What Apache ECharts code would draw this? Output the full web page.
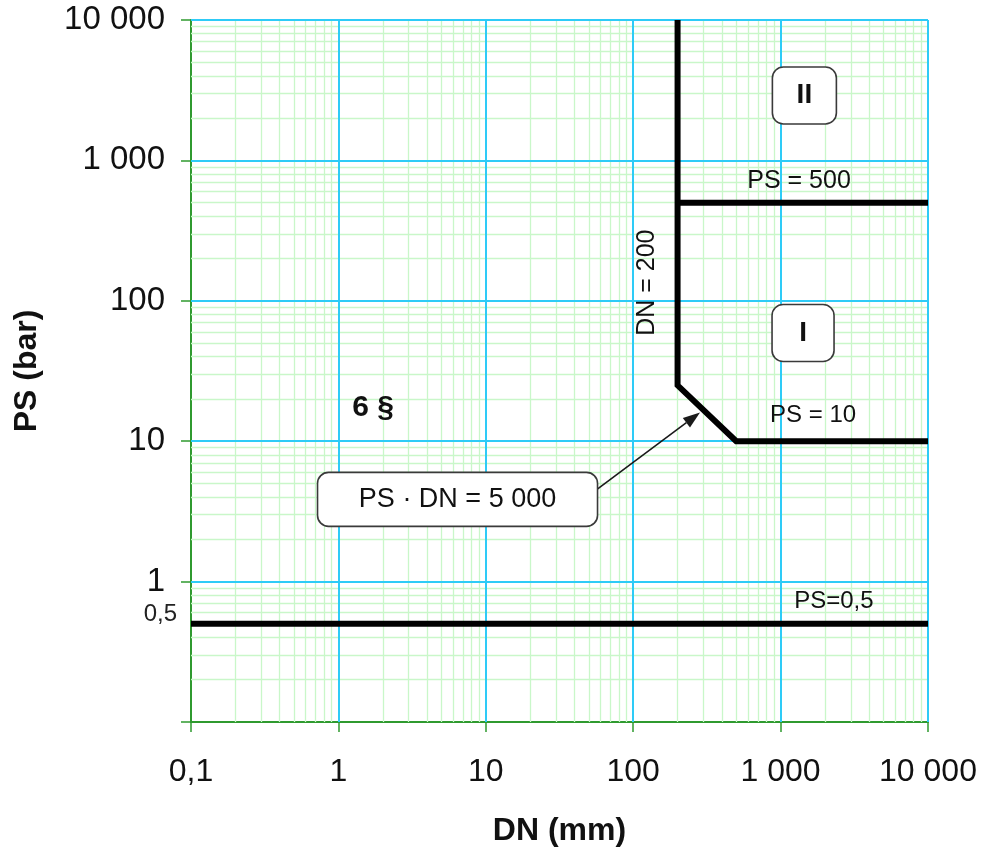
<!DOCTYPE html>
<html>
<head>
<meta charset="utf-8">
<script src="https://cdn.jsdelivr.net/npm/echarts@6/dist/echarts.min.js"></script>
<style>
  html, body { margin: 0; background: #fff; }
  #chart { width: 981px; height: 852px; }
</style>
</head>
<body>
<div id="chart"></div>
<script>
// DN (mm) / PS (bar) boundary lines
const dnLimit = [200, 200, 500, 10000];
const psLimit = [10000, 25, 10, 10];
const dnPs500 = [200, 10000];
const psPs500 = [500, 500];
const dnPs05 = [0.1, 10000];
const psPs05 = [0.5, 0.5];

// grid lines
const decades = [0.1, 1, 10, 100, 1000];
const multiples = [2, 3, 4, 5, 6, 7, 8, 9];
const majorValues = [1, 10, 100, 1000, 10000];

// tick labels
const tickValues = [0.1, 1, 10, 100, 1000, 10000];
const xTickLabels = ['0,1', '1', '10', '100', '1 000', '10 000'];
const yTickLabels = ['', '1', '10', '100', '1 000', '10 000'];

const FONT = '"Liberation Sans", Arial, Helvetica, sans-serif';
const AXIS_GREEN = '#2f9a2f';
const MAJOR_BLUE = '#2ecbf7';
const MINOR_GREEN = '#c9f7c9';

function tickLabel(labels) {
  return function (v) {
    for (let i = 0; i < tickValues.length; i++) {
      if (Math.abs(Math.log10(v) - Math.log10(tickValues[i])) < 1e-6) return labels[i];
    }
    return '';
  };
}

const minorX = [], minorY = [];
decades.forEach(d => multiples.forEach(m => {
  minorX.push({ xAxis: d * m });
  minorY.push({ yAxis: d * m });
}));
const majorX = majorValues.map(v => ({ xAxis: v }));
const majorY = majorValues.map(v => ({ yAxis: v }));

function toPairs(xs, ys) {
  return xs.map((x, i) => [x, ys[i]]);
}

const boldLine = {
  color: '#000',
  width: 6,
  join: 'miter',
  cap: 'butt'
};

const option = {
  animation: false,
  grid: { left: 191, right: 53, top: 20, bottom: 129 },
  xAxis: {
    type: 'log',
    logBase: 10,
    min: 0.1,
    max: 10000,
    name: 'DN (mm)',
    nameLocation: 'middle',
    nameGap: 93,
    nameTextStyle: { fontFamily: FONT, fontSize: 32, fontWeight: 'bold', color: '#111' },
    axisLine: { lineStyle: { color: AXIS_GREEN, width: 2 } },
    axisTick: { show: true, inside: false, length: 10, lineStyle: { color: AXIS_GREEN, width: 1.5 } },
    axisLabel: {
      fontFamily: FONT, fontSize: 32, color: '#111', margin: 34,
      showMinLabel: true, showMaxLabel: true, hideOverlap: false,
      formatter: tickLabel(xTickLabels)
    },
    splitLine: { show: false },
    minorTick: { show: false },
    minorSplitLine: { show: false }
  },
  yAxis: {
    type: 'log',
    logBase: 10,
    min: 0.1,
    max: 10000,
    name: 'PS (bar)',
    nameLocation: 'middle',
    nameGap: 148,
    nameTextStyle: { fontFamily: FONT, fontSize: 32, fontWeight: 'bold', color: '#111' },
    axisLine: { show: true, lineStyle: { color: AXIS_GREEN, width: 2 } },
    axisTick: { show: true, inside: false, length: 10, lineStyle: { color: AXIS_GREEN, width: 1.5 } },
    axisLabel: {
      fontFamily: FONT, fontSize: 33, color: '#111', margin: 26,
      showMinLabel: true, showMaxLabel: true, hideOverlap: false,
      formatter: tickLabel(yTickLabels)
    },
    splitLine: { show: false },
    minorTick: { show: false },
    minorSplitLine: { show: false }
  },
  series: [
    {
      name: 'minorGrid',
      type: 'line',
      data: [],
      z: 1,
      silent: true,
      markLine: {
        silent: true,
        symbol: ['none', 'none'],
        label: { show: false },
        lineStyle: { color: MINOR_GREEN, width: 1.3, type: 'solid' },
        data: minorX.concat(minorY)
      }
    },
    {
      name: 'majorGrid',
      type: 'line',
      data: [],
      z: 1.5,
      silent: true,
      markLine: {
        silent: true,
        symbol: ['none', 'none'],
        label: { show: false },
        lineStyle: { color: MAJOR_BLUE, width: 2, type: 'solid' },
        data: majorX.concat(majorY)
      }
    },
    {
      name: 'limit',
      type: 'line',
      z: 5,
      symbol: 'none',
      silent: true,
      data: toPairs(dnLimit, psLimit),
      lineStyle: boldLine
    },
    {
      name: 'PS500',
      type: 'line',
      z: 5,
      symbol: 'none',
      silent: true,
      data: toPairs(dnPs500, psPs500),
      lineStyle: boldLine
    },
    {
      name: 'PS05',
      type: 'line',
      z: 5,
      symbol: 'none',
      silent: true,
      data: toPairs(dnPs05, psPs05),
      lineStyle: boldLine
    }
  ]
};

const chart = echarts.init(document.getElementById('chart'));
chart.setOption(option);

// annotations, anchored in data coordinates
function placeAnnotations() {
  const p = (dn, ps) => chart.convertToPixel({ gridIndex: 0 }, [dn, ps]);
  const els = [];

  function text(str, dn, ps, font, opts) {
    const c = p(dn, ps);
    els.push(Object.assign({
      type: 'text',
      x: c[0],
      y: c[1],
      z: 120,
      style: { text: str, font: font, fill: '#111', align: 'center', verticalAlign: 'middle' }
    }, opts || {}));
  }

  function box(str, dn, ps, w, h, font) {
    const c = p(dn, ps);
    els.push({
      type: 'rect',
      z: 110,
      shape: { x: c[0] - w / 2, y: c[1] - h / 2, width: w, height: h, r: 11 },
      style: { fill: '#fff', stroke: '#3a3a3a', lineWidth: 1.6 }
    });
    text(str, dn, ps, font);
  }

  text('PS = 500', 1334, 716, '25px ' + FONT);
  text('PS = 10', 1660, 15.3, '24px ' + FONT);
  text('PS=0,5', 2300, 0.726, '24px ' + FONT);
  text('DN = 200', 124, 134.6, '25px ' + FONT, { rotation: Math.PI / 2 });
  text('6 §', 1.717, 17.4, 'bold 30px ' + FONT);

  box('II', 1450, 2900, 64, 57, 'bold 28px ' + FONT);
  box('I', 1420, 59, 62, 57, 'bold 28px ' + FONT);

  // arrow from the PS·DN box to the 5 000 line
  const s = p(56.8, 4.54);
  const t = p(284, 16.0);
  const ang = Math.atan2(t[1] - s[1], t[0] - s[0]);
  const hl = 17, hw = 6;
  const bx = t[0] - hl * Math.cos(ang), by = t[1] - hl * Math.sin(ang);
  els.push({
    type: 'line', z: 105,
    shape: { x1: s[0], y1: s[1], x2: bx, y2: by },
    style: { stroke: '#1a1a1a', lineWidth: 1.6 }
  });
  els.push({
    type: 'polygon', z: 105,
    shape: {
      points: [
        [t[0], t[1]],
        [bx + hw * Math.sin(ang), by - hw * Math.cos(ang)],
        [bx - hw * Math.sin(ang), by + hw * Math.cos(ang)]
      ]
    },
    style: { fill: '#1a1a1a' }
  });
  box('PS · DN = 5 000', 6.43, 3.85, 280, 54, '27px ' + FONT);

  // extra 0,5 label on the PS axis
  const h = p(0.1, 0.5);
  els.push({
    type: 'text', z: 120,
    x: h[0] - 14, y: h[1] - 9,
    style: { text: '0,5', font: '24px ' + FONT, fill: '#222', align: 'right', verticalAlign: 'middle' }
  });

  chart.setOption({ graphic: els });
}
placeAnnotations();
</script>
</body>
</html>
